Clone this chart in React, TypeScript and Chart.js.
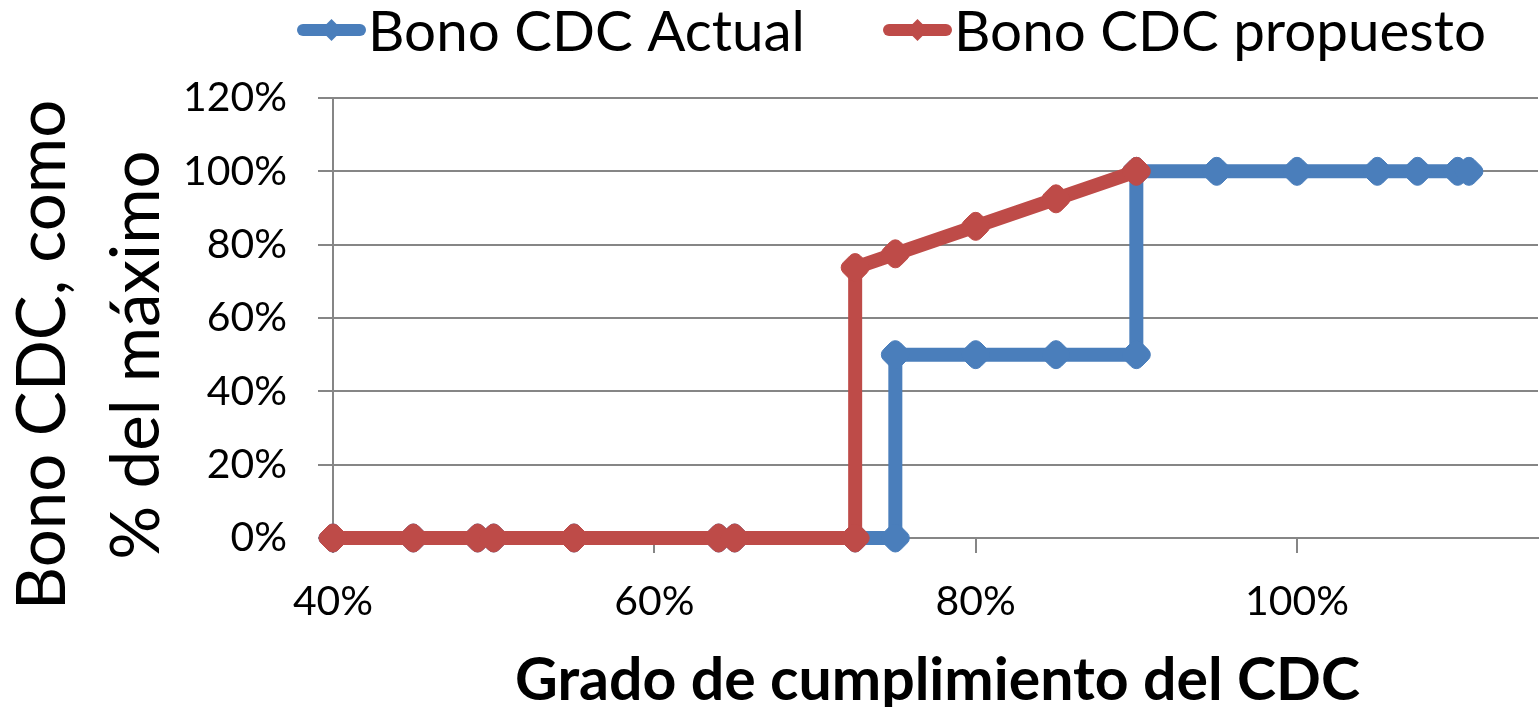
import React, { useEffect, useRef } from 'react';
import { Chart, registerables } from 'chart.js';

Chart.register(...registerables);

// ---- Data ----
const seriesNames = ['Bono CDC Actual', 'Bono CDC propuesto'];
const seriesColors = ['#4A7EBB', '#BE4B48'];

const actualX = [40, 45, 49, 50, 55, 64, 65, 72.5, 75, 75, 80, 85, 90, 90, 95, 100, 105, 107.5, 110, 110.7];
const actualY = [0, 0, 0, 0, 0, 0, 0, 0, 0, 50, 50, 50, 50, 100, 100, 100, 100, 100, 100, 100];

const proposedX = [40, 45, 49, 50, 55, 64, 65, 72.5, 72.5, 75, 80, 85, 90];
const proposedY = [0, 0, 0, 0, 0, 0, 0, 0, 73.75, 77.5, 85, 92.5, 100];

const xTickValues = [40, 60, 80, 100];
const yTickValues = [0, 20, 40, 60, 80, 100, 120];

const xAxisTitle = 'Grado de cumplimiento del CDC';
const yAxisTitle = ['Bono CDC, como', '% del máximo'];

const FONT = 'Lato, "Open Sans", sans-serif';
const GRID = '#868686';

function fitSize(texts: string[], target: number, weight = 'normal') {
  const c = document.createElement('canvas').getContext('2d')!;
  c.font = `${weight} 100px ${FONT}`;
  const w = texts.reduce((s, t) => s + c.measureText(t).width, 0);
  return (100 * target) / w;
}

function drawDiamond(ctx: CanvasRenderingContext2D, x: number, y: number, r: number) {
  ctx.beginPath();
  ctx.moveTo(x - r, y);
  ctx.lineTo(x, y - r);
  ctx.lineTo(x + r, y);
  ctx.lineTo(x, y + r);
  ctx.closePath();
  ctx.fill();
}

export default function App() {
  const ref = useRef<HTMLCanvasElement | null>(null);

  useEffect(() => {
    document.body.style.margin = '0';
    const canvas = ref.current;
    if (!canvas) return;

    const tickSize = fitSize(['120%'], 104);
    const legendSize = fitSize(seriesNames, 432 + 537);
    const xTitleSize = fitSize([xAxisTitle], 845, 'bold');
    const yTitleSize = fitSize(yAxisTitle, 505 + 415);

    const legendLayout = [
      { lineStart: 297, lineEnd: 366, text: 368 },
      { lineStart: 883, lineEnd: 952, text: 954 },
    ];

    const textPlugin = {
      id: 'customText',
      afterDraw(chart: any) {
        const ctx: CanvasRenderingContext2D = chart.ctx;
        const area = chart.chartArea;
        ctx.save();
        // legend
        chart.data.datasets.forEach((ds: any, i: number) => {
          const L = legendLayout[i];
          const cy = 30;
          ctx.strokeStyle = ds.borderColor;
          ctx.fillStyle = ds.borderColor;
          ctx.lineWidth = 12;
          ctx.lineCap = 'round';
          ctx.beginPath();
          ctx.moveTo(L.lineStart + 6, cy);
          ctx.lineTo(L.lineEnd - 6, cy);
          ctx.stroke();
          drawDiamond(ctx, (L.lineStart + L.lineEnd) / 2, cy, 11);
          ctx.fillStyle = '#000';
          ctx.font = `normal ${legendSize}px ${FONT}`;
          ctx.textAlign = 'left';
          ctx.textBaseline = 'alphabetic';
          ctx.fillText(ds.label, L.text, 51);
        });
        // x axis title
        ctx.fillStyle = '#000';
        ctx.font = `bold ${xTitleSize}px ${FONT}`;
        ctx.textAlign = 'center';
        ctx.textBaseline = 'alphabetic';
        ctx.fillText(xAxisTitle, (area.left + area.right) / 2 + 2, 700);
        // y axis title
        ctx.font = `normal ${yTitleSize}px ${FONT}`;
        const baselines = [65, 159];
        yAxisTitle.forEach((line, i) => {
          ctx.save();
          ctx.translate(baselines[i], 355);
          ctx.rotate(-Math.PI / 2);
          ctx.fillText(line, 0, 0);
          ctx.restore();
        });
        ctx.restore();
      },
    };

    const makeDataset = (i: number, xs: number[], ys: number[], order: number) => ({
      label: seriesNames[i],
      data: xs.map((x, k) => ({ x, y: ys[k] })),
      borderColor: seriesColors[i],
      backgroundColor: seriesColors[i],
      borderWidth: 14,
      borderJoinStyle: 'round' as const,
      borderCapStyle: 'round' as const,
      pointStyle: 'rectRounded' as const,
      pointRotation: 45,
      pointRadius: 14,
      pointBorderWidth: 1,
      pointBackgroundColor: seriesColors[i],
      pointBorderColor: seriesColors[i],
      tension: 0,
      clip: false as any,
      order,
    });

    const tickFont = { family: FONT, size: tickSize };

    const chart = new Chart(canvas, {
      type: 'line',
      data: {
        datasets: [
          makeDataset(0, actualX, actualY, 2),
          makeDataset(1, proposedX, proposedY, 1),
        ],
      },
      options: {
        animation: false,
        responsive: false,
        layout: { autoPadding: false, padding: { top: 98, right: 2, left: 0, bottom: 0 } },
        plugins: {
          legend: { display: false },
          tooltip: { enabled: false },
        },
        scales: {
          x: {
            type: 'linear',
            min: 40,
            max: 115,
            afterBuildTicks: (s: any) => {
              s.ticks = xTickValues.map((v) => ({ value: v }));
            },
            afterFit: (s: any) => {
              s.height = 169;
              s.paddingLeft = 0;
              s.paddingRight = 0;
            },
            grid: { drawOnChartArea: false, drawTicks: true, tickLength: 15, color: GRID, lineWidth: 2 },
            border: { display: true, color: GRID, width: 2 },
            ticks: {
              font: tickFont,
              color: '#000',
              padding: 24,
              maxRotation: 0,
              autoSkip: false,
              callback: (v: any) => v + '%',
            },
          },
          y: {
            type: 'linear',
            min: 0,
            max: 120,
            afterBuildTicks: (s: any) => {
              s.ticks = yTickValues.map((v) => ({ value: v }));
            },
            afterFit: (s: any) => {
              s.width = 333;
              s.paddingTop = 0;
              s.paddingBottom = 0;
            },
            grid: { color: GRID, lineWidth: 2, tickLength: 15 },
            border: { display: true, color: GRID, width: 2 },
            ticks: {
              font: tickFont,
              color: '#000',
              padding: 31,
              autoSkip: false,
              callback: (v: any) => v + '%',
            },
          },
        },
      },
      plugins: [textPlugin],
    });

    return () => chart.destroy();
  }, []);

  return (
    <div style={{ width: 1540, height: 707, position: 'relative' }}>
      <canvas ref={ref} width={1540} height={707} style={{ display: 'block' }} />
    </div>
  );
}
